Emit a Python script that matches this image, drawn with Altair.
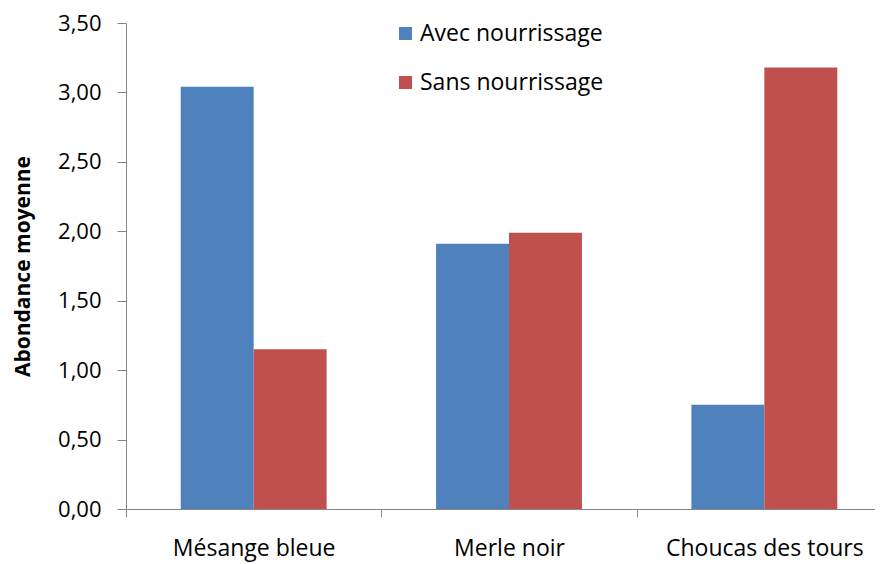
import altair as alt
import pandas as pd

species = ["Mésange bleue", "Merle noir", "Choucas des tours"]
series = ["Avec nourrissage", "Sans nourrissage"]
avec = [3.04, 1.91, 0.75]
sans = [1.15, 1.99, 3.18]
colors = ["#4F81BD", "#C0504D"]

rows = []
for i, sp in enumerate(species):
    rows.append({"espece": sp, "serie": series[0], "valeur": avec[i]})
    rows.append({"espece": sp, "serie": series[1], "valeur": sans[i]})
df = pd.DataFrame(rows)

FONT = "Open Sans"

chart = alt.Chart(df).mark_bar().encode(
    x=alt.X("espece:N", sort=species, title=None,
            scale=alt.Scale(paddingInner=0, paddingOuter=0, range=[0, 766]),
            axis=alt.Axis(labelAngle=0, tickBand="extent", tickSize=8,
                          labelPadding=20, labelFontSize=23, labelFont=FONT,
                          labelColor="#000000", domainColor="#868686",
                          tickColor="#868686", labelLimit=400)),
    xOffset=alt.XOffset("serie:N", sort=series,
                        scale=alt.Scale(paddingInner=0, paddingOuter=0.75)),
    y=alt.Y("valeur:Q", title="Abondance moyenne",
            scale=alt.Scale(domain=[0, 3.5], nice=False),
            axis=alt.Axis(values=[0, 0.5, 1, 1.5, 2, 2.5, 3, 3.5],
                          labelExpr="replace(format(datum.value, '.2f'), '.', ',')",
                          tickSize=9, labelPadding=16, labelFontSize=22,
                          labelFont=FONT, labelColor="#000000",
                          domainColor="#868686", tickColor="#868686",
                          grid=False, titleFont=FONT, titleFontSize=21,
                          titleFontWeight="bold", titleColor="#000000",
                          titlePadding=24)),
    color=alt.Color("serie:N", sort=series,
                    scale=alt.Scale(domain=series, range=colors),
                    legend=alt.Legend(title=None, orient="none", legendX=268,
                                      legendY=-1, symbolType="square",
                                      symbolSize=169, symbolStrokeWidth=0,
                                      labelFont=FONT, labelFontSize=23,
                                      labelColor="#000000", labelOffset=3,
                                      rowPadding=25, labelLimit=400)),
).properties(
    width=749, height=486,
    autosize=alt.AutoSizeParams(type="none"),
    padding={"left": 118, "top": 15, "right": 0, "bottom": 55},
).configure_view(stroke=None)

chart.save("out.html", embed_options={"renderer": "svg", "actions": False})
